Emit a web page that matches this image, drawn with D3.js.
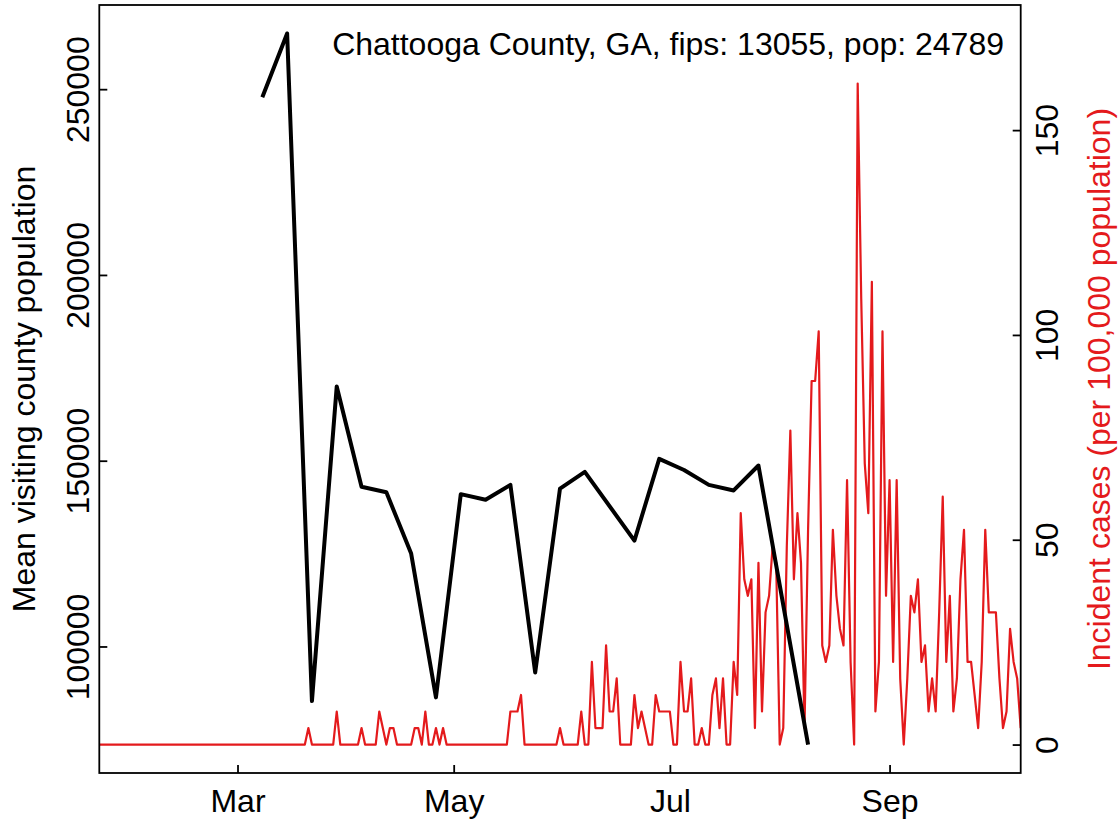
<!DOCTYPE html>
<html>
<head>
<meta charset="utf-8">
<script src="https://cdn.jsdelivr.net/npm/d3@7"></script>
<style>
  html, body { margin: 0; padding: 0; background: #ffffff; }
  svg text { font-family: "Liberation Sans", Arial, Helvetica, sans-serif; }
</style>
</head>
<body>
<svg id="chart" width="1119" height="822"></svg>
<script>
// ---------------- DATA ----------------
const titleText = "Chattooga County, GA, fips: 13055, pop: 24789";
const leftAxisTitle = "Mean visiting county population";
const rightAxisTitle = "Incident cases (per 100,000 population)";

// Weekly mean visiting county population (black line)
const visitDates = ["2020-03-08","2020-03-15","2020-03-22","2020-03-29","2020-04-05","2020-04-12",
  "2020-04-19","2020-04-26","2020-05-03","2020-05-10","2020-05-17","2020-05-24","2020-05-31",
  "2020-06-07","2020-06-21","2020-06-28","2020-07-05","2020-07-12","2020-07-19","2020-07-26",
  "2020-08-09"];
const visitValues = [247800, 265000, 85300, 170000, 143000, 141500,
  125000, 86300, 141000, 139500, 143500, 93000, 142500,
  147000, 128500, 150500, 147500, 143500, 142000, 148700,
  73600];

// Daily incident cases per 100,000 (red line), starting 2020-01-22
const caseStartDate = "2020-01-22";
const caseValues = [
  0,0,0,0,0,0,0,0,0,0,
  0,0,0,0,0,0,0,0,0,0,
  0,0,0,0,0,0,0,0,0,0,
  0,0,0,0,0,0,0,0,0,0,
  0,0,0,0,0,0,0,0,0,0,
  0,0,0,0,0,0,0,0,0,4.03,
  0,0,0,0,0,0,0,8.07,0,0,
  0,0,0,0,4.03,0,0,0,0,8.07,
  4.03,0,4.03,4.03,0,0,0,0,0,4.03,
  4.03,0,8.07,0,0,4.03,0,4.03,0,0,
  0,0,0,0,0,0,0,0,0,0,
  0,0,0,0,0,0,8.07,8.07,8.07,12.10,
  0,0,0,0,0,0,0,0,0,0,
  4.03,0,0,0,0,0,8.07,0,0,20.17,
  4.03,4.03,4.03,24.20,8.07,8.07,16.14,0,0,0,
  0,12.10,4.03,8.07,4.03,0,0,12.10,8.07,8.07,
  8.07,8.07,0,0,20.17,8.07,8.07,16.14,0,0,
  4.03,0,0,12.10,16.14,4.03,16.14,0,0,20.17,
  12.10,56.48,40.34,36.31,40.34,4.03,44.37,8.07,32.27,36.31,
  48.41,44.37,0,4.03,48.41,76.65,40.34,56.48,44.37,4.03,
  52.44,88.75,88.75,100.85,24.20,20.17,24.20,52.44,36.31,28.24,
  24.20,64.54,20.17,0,161.36,108.92,68.58,56.48,112.95,8.07,
  20.17,100.85,36.31,64.54,20.17,64.54,16.14,0,16.14,36.31,
  32.27,40.34,20.17,24.20,8.07,16.14,8.07,32.27,60.51,20.17,
  36.31,8.07,16.14,40.34,52.44,20.17,20.17,12.10,4.03,20.17,
  52.44,32.27,32.27,32.27,16.14,4.03,8.07,28.24,20.17,16.14,
  4.03
];
const caseAxisMax = 173.6;

// Axis ticks
const xTickDates = ["2020-03-01","2020-05-01","2020-07-01","2020-09-01"];
const xTickLabels = ["Mar","May","Jul","Sep"];
const leftTicks = [100000, 150000, 200000, 250000];
const rightTicks = [0, 50, 100, 150];

// ---------------- LAYOUT ----------------
const W = 1119, H = 822;
const plot = { left: 99.3, right: 1020.7, top: 5, bottom: 773 };
const FONT = 32;
const RED = "#E41A1C";

const parse = d3.utcParse("%Y-%m-%d");
const start = parse(caseStartDate);
const caseDates = caseValues.map((v, i) => d3.utcDay.offset(start, i));
const cases = caseValues.map((v, i) => ({ date: caseDates[i], value: v }));
const visits = visitValues.map((v, i) => ({ date: parse(visitDates[i]), value: v }));

const svg = d3.select("#chart");

const x = d3.scaleUtc()
  .domain([caseDates[0], caseDates[caseDates.length - 1]])
  .range([plot.left, plot.right]);

const vExt = d3.extent(visitValues);
const vPad = 0.04 * (vExt[1] - vExt[0]);
const yL = d3.scaleLinear()
  .domain([vExt[0] - vPad, vExt[1] + vPad])
  .range([plot.bottom, plot.top]);

const cPad = 0.04 * caseAxisMax;
const yR = d3.scaleLinear()
  .domain([0 - cPad, caseAxisMax + cPad])
  .range([plot.bottom, plot.top]);

svg.append("defs").append("clipPath").attr("id", "clip")
  .append("rect")
  .attr("x", plot.left).attr("y", plot.top)
  .attr("width", plot.right - plot.left).attr("height", plot.bottom - plot.top);

// Red line (cases)
svg.append("path")
  .datum(cases)
  .attr("clip-path", "url(#clip)")
  .attr("fill", "none")
  .attr("stroke", RED)
  .attr("stroke-width", 2.2)
  .attr("stroke-linejoin", "round")
  .attr("d", d3.line().x(d => x(d.date)).y(d => yR(d.value)));

// Black line (visits)
svg.append("path")
  .datum(visits)
  .attr("clip-path", "url(#clip)")
  .attr("fill", "none")
  .attr("stroke", "#000")
  .attr("stroke-width", 4)
  .attr("stroke-linejoin", "round")
  .attr("d", d3.line().x(d => x(d.date)).y(d => yL(d.value)));

// Box
svg.append("rect")
  .attr("x", plot.left).attr("y", plot.top)
  .attr("width", plot.right - plot.left).attr("height", plot.bottom - plot.top)
  .attr("fill", "none").attr("stroke", "#000").attr("stroke-width", 1.8);

// Bottom axis
const gx = svg.append("g")
  .attr("transform", `translate(0,${plot.bottom})`)
  .call(d3.axisBottom(x)
    .tickValues(xTickDates.map(parse))
    .tickSize(-8)
    .tickFormat((d, i) => xTickLabels[i]));
gx.select(".domain").remove();
gx.selectAll(".tick line").attr("stroke", "#000").attr("stroke-width", 1.8);
gx.selectAll(".tick text")
  .attr("y", 39).attr("dy", null)
  .attr("fill", "#000")
  .style("font-size", FONT + "px");

// Left axis
const gl = svg.append("g")
  .attr("transform", `translate(${plot.left},0)`)
  .call(d3.axisLeft(yL).tickValues(leftTicks).tickSize(-8).tickFormat(d3.format("d")));
gl.select(".domain").remove();
gl.selectAll(".tick line").attr("stroke", "#000").attr("stroke-width", 1.8);
gl.selectAll(".tick text")
  .attr("x", null).attr("dy", null)
  .attr("transform", "translate(-10,0) rotate(-90)")
  .attr("text-anchor", "middle")
  .attr("fill", "#000")
  .style("font-size", FONT + "px");

// Right axis
const gr = svg.append("g")
  .attr("transform", `translate(${plot.right},0)`)
  .call(d3.axisRight(yR).tickValues(rightTicks).tickSize(-8).tickFormat(d3.format("d")));
gr.select(".domain").remove();
gr.selectAll(".tick line").attr("stroke", "#000").attr("stroke-width", 1.8);
gr.selectAll(".tick text")
  .attr("x", null).attr("dy", null)
  .attr("transform", "translate(37.5,0) rotate(-90)")
  .attr("text-anchor", "middle")
  .attr("fill", "#000")
  .style("font-size", FONT + "px");

// Axis titles
const midY = (plot.top + plot.bottom) / 2;
svg.append("text")
  .attr("transform", `translate(35,${midY}) rotate(-90)`)
  .attr("text-anchor", "middle")
  .attr("fill", "#000")
  .style("font-size", FONT + "px")
  .text(leftAxisTitle);

svg.append("text")
  .attr("transform", `translate(1110,${midY}) rotate(-90)`)
  .attr("text-anchor", "middle")
  .attr("fill", RED)
  .style("font-size", FONT + "px")
  .text(rightAxisTitle);

// Title inside plot
svg.append("text")
  .attr("x", 1004).attr("y", 55)
  .attr("text-anchor", "end")
  .attr("fill", "#000")
  .style("font-size", FONT + "px")
  .text(titleText);
</script>
</body>
</html>
